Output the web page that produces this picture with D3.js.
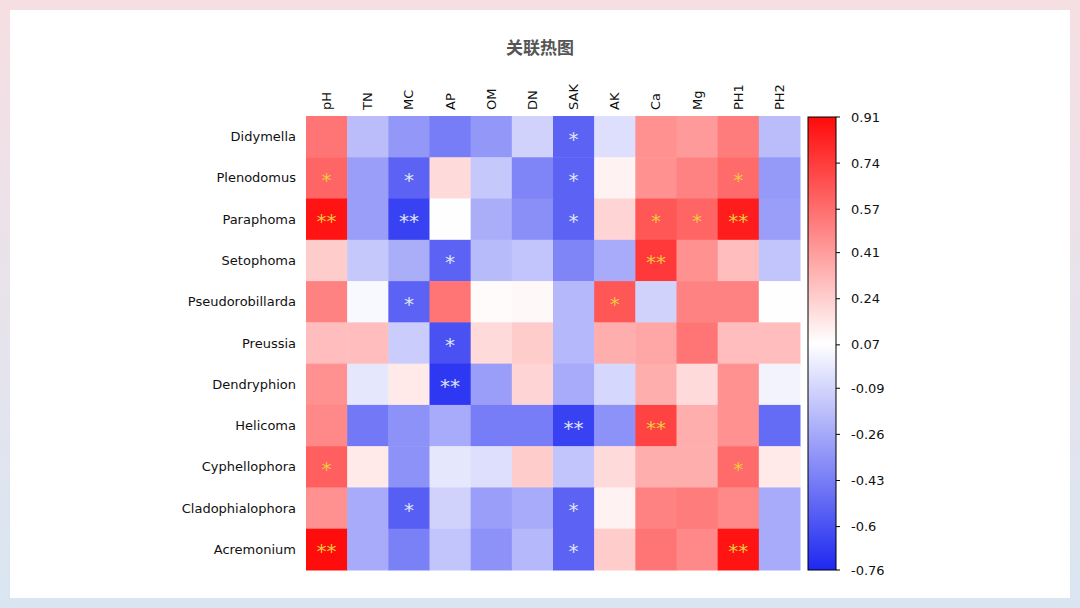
<!DOCTYPE html><html><head><meta charset="utf-8"><script src="https://cdn.jsdelivr.net/npm/d3@7"></script>
<style>body{margin:0;background:linear-gradient(180deg,#f6dfe3,#d9e6f2);}svg{display:block}</style></head><body>
<svg id="c" width="1080" height="608"></svg>
<script>
const cols=["pH","TN","MC","AP","OM","DN","SAK","AK","Ca","Mg","PH1","PH2"];
const rows=["Didymella","Plenodomus","Paraphoma","Setophoma","Pseudorobillarda","Preussia","Dendryphion","Helicoma","Cyphellophora","Cladophialophora","Acremonium"];
const values=[
[0.55,-0.18,-0.33,-0.43,-0.33,-0.1,-0.53,-0.05,0.45,0.42,0.52,-0.18],
[0.6,-0.3,-0.53,0.2,-0.14,-0.4,-0.53,0.12,0.45,0.5,0.58,-0.32],
[0.88,-0.3,-0.66,0.08,-0.24,-0.36,-0.53,0.22,0.65,0.6,0.85,-0.3],
[0.25,-0.14,-0.24,-0.53,-0.19,-0.15,-0.4,-0.25,0.75,0.45,0.3,-0.15],
[0.5,0.05,-0.53,0.55,0.09,0.1,-0.2,0.65,-0.1,0.5,0.5,0.08],
[0.3,0.3,-0.12,-0.6,0.2,0.25,-0.2,0.35,0.38,0.55,0.3,0.3],
[0.45,-0.02,0.15,-0.7,-0.3,0.22,-0.25,-0.08,0.35,0.2,0.45,0.03],
[0.48,-0.45,-0.35,-0.25,-0.43,-0.43,-0.66,-0.35,0.72,0.35,0.45,-0.5],
[0.62,0.15,-0.35,-0.02,-0.05,0.25,-0.15,0.2,0.35,0.35,0.58,0.15],
[0.45,-0.25,-0.55,-0.1,-0.3,-0.25,-0.53,0.12,0.5,0.52,0.48,-0.25],
[0.9,-0.25,-0.42,-0.15,-0.35,-0.2,-0.53,0.25,0.55,0.48,0.88,-0.25]];
const stars=[
["","","","","","","*","","","","",""],
["*","","*","","","","*","","","","*",""],
["**","","**","","","","*","","*","*","**",""],
["","","","*","","","","","**","","",""],
["","","*","","","","","*","","","",""],
["","","","*","","","","","","","",""],
["","","","**","","","","","","","",""],
["","","","","","","**","","**","","",""],
["*","","","","","","","","","","*",""],
["","","*","","","","*","","","","",""],
["**","","","","","","*","","","","**",""]];
const ticks=[0.91,0.74,0.57,0.41,0.24,0.07,-0.09,-0.26,-0.43,-0.6,-0.76];
const vmin=-0.76,vmax=0.91,mid=(vmin+vmax)/2;
const lo="#1e28f0",hi="#ff0a0a";
const svg=d3.select("#c");
svg.append("rect").attr("x",10).attr("y",10).attr("width",1060).attr("height",588).attr("fill","#fff");
svg.append("text").attr("x",540).attr("y",54).attr("text-anchor","middle").attr("font-family","Noto Sans CJK SC").attr("font-size",17).attr("font-weight","bold").attr("fill","#555").text("关联热图");
const x=d3.scaleBand().domain(cols).range([306,800]);
const y=d3.scaleBand().domain(rows).range([116,570]);
const color=d3.scaleLinear().domain([vmin,mid,vmax]).range([lo,"#ffffff",hi]);
const g=svg.append("g");
rows.forEach((r,i)=>cols.forEach((c,j)=>{
 const v=values[i][j];
 g.append("rect").attr("x",x(c)).attr("y",y(r)).attr("width",x.bandwidth()+0.5).attr("height",y.bandwidth()+0.5).attr("fill",color(v));
 if(stars[i][j]) g.append("text").attr("x",x(c)+x.bandwidth()/2).attr("y",y(r)+y.bandwidth()/2+9).attr("text-anchor","middle").attr("font-family","DejaVu Sans").attr("font-size",20).attr("fill",v>mid?"#f2c640":"#dfe3f5").text(stars[i][j]);
}));
rows.forEach(r=>svg.append("text").attr("x",296).attr("y",y(r)+y.bandwidth()/2+4.5).attr("text-anchor","end").attr("font-family","DejaVu Sans").attr("font-size",13).attr("fill","#111").text(r));
cols.forEach(c=>svg.append("text").attr("transform",`translate(${x(c)+x.bandwidth()/2+4.5},110) rotate(-90)`).attr("font-family","DejaVu Sans").attr("font-size",13).attr("fill","#111").text(c));
const defs=svg.append("defs");const gr=defs.append("linearGradient").attr("id","cb").attr("x1",0).attr("y1",1).attr("x2",0).attr("y2",0);
[0,0.5,1].forEach((o,k)=>gr.append("stop").attr("offset",o).attr("stop-color",[lo,"#ffffff",hi][k]));
const cy=d3.scaleLinear().domain([vmin,vmax]).range([570,117]);
svg.append("rect").attr("x",808).attr("y",117).attr("width",28).attr("height",453).attr("fill","url(#cb)").attr("stroke","#000").attr("stroke-width",1);
ticks.forEach(t=>{svg.append("line").attr("x1",836).attr("x2",840).attr("y1",cy(t)).attr("y2",cy(t)).attr("stroke","#000");
 svg.append("text").attr("x",851).attr("y",cy(t)+4.5).attr("font-family","DejaVu Sans").attr("font-size",13).attr("fill","#111").text(t);});
</script></body></html>
